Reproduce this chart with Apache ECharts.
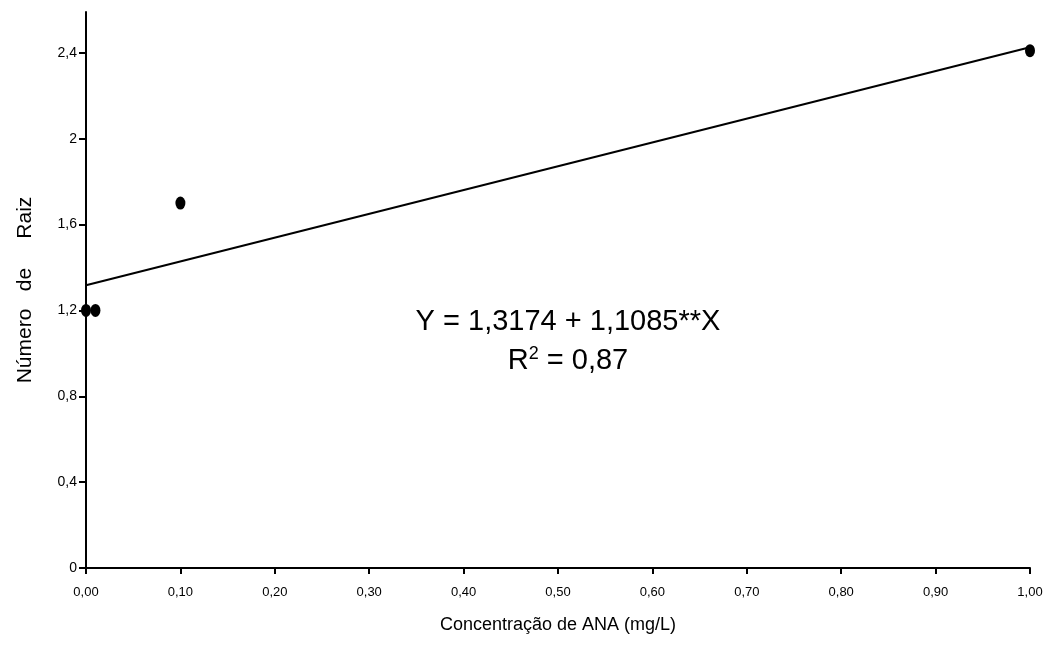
<!DOCTYPE html>
<html>
<head>
<meta charset="utf-8">
<script src="https://cdn.jsdelivr.net/npm/echarts@6/dist/echarts.min.js"></script>
<style>
  html, body { margin: 0; padding: 0; background: #fff; }
  #main { width: 1055px; height: 645px; }
</style>
</head>
<body>
<div id="main"></div>
<script>
// dados
var obsX = [0, 0.01, 0.1, 1.0];
var obsY = [1.2, 1.2, 1.7, 2.41];
var fitX = [0, 1.0];
var fitY = [1.3174, 2.4259];
var xTicks = [0, 0.1, 0.2, 0.3, 0.4, 0.5, 0.6, 0.7, 0.8, 0.9, 1.0];
var xTickLabels = ["0,00", "0,10", "0,20", "0,30", "0,40", "0,50", "0,60", "0,70", "0,80", "0,90", "1,00"];
var yTicks = [0, 0.4, 0.8, 1.2, 1.6, 2.0, 2.4];
var yTickLabels = ["0", "0,4", "0,8", "1,2", "1,6", "2", "2,4"];

var chartDom = document.getElementById("main");
var myChart = echarts.init(chartDom);
var option;

function labelFor(ticks, labels, v) {
  for (var i = 0; i < ticks.length; i++) {
    if (Math.abs(ticks[i] - v) < 1e-6) return labels[i];
  }
  return "";
}

option = {
  animation: false,
  grid: {
    left: 86,
    right: 25,
    top: 12,
    bottom: 77,
  },
  xAxis: {
    type: "value",
    min: 0,
    max: 1,
    name: "Concentração de ANA (mg/L)",
    nameLocation: "middle",
    nameGap: 48,
    nameTextStyle: { fontFamily: "Liberation Sans", fontSize: 18, color: "#000" },
    axisLine: { lineStyle: { color: "#000", width: 2 } },
    axisTick: { length: 6, lineStyle: { color: "#000", width: 2 }, customValues: xTicks },
    axisLabel: {
      customValues: xTicks,
      margin: 18,
      fontFamily: "Liberation Sans",
      fontSize: 13,
      color: "#000",
      formatter: function (v) { return labelFor(xTicks, xTickLabels, v); },
    },
    splitLine: { show: false },
  },
  yAxis: {
    type: "value",
    min: 0,
    max: 2.59,
    name: "Número   de     Raiz",
    nameLocation: "middle",
    nameGap: 50,
    nameTextStyle: { fontFamily: "Liberation Sans", fontSize: 21, color: "#000" },
    axisLine: { show: true, lineStyle: { color: "#000", width: 2 } },
    axisTick: { show: true, length: 7, lineStyle: { color: "#000", width: 2 }, customValues: yTicks },
    axisLabel: {
      customValues: yTicks,
      margin: 9,
      fontFamily: "Liberation Sans",
      fontSize: 14,
      color: "#000",
      formatter: function (v) { return labelFor(yTicks, yTickLabels, v); },
    },
    splitLine: { show: false },
  },
  graphic: [
    {
      type: "text",
      x: 568,
      y: 322,
      style: {
        text: "Y = 1,3174 + 1,1085**X",
        font: "29px 'Liberation Sans'",
        fill: "#000",
        align: "center",
        verticalAlign: "middle",
      },
    },
    {
      type: "text",
      x: 568,
      y: 360,
      style: {
        text: "{b|R}{s|2}{b| = 0,87}",
        align: "center",
        verticalAlign: "middle",
        rich: {
          b: { fontFamily: "Liberation Sans", fontSize: 29, color: "#000", verticalAlign: "bottom" },
          s: { fontFamily: "Liberation Sans", fontSize: 18, color: "#000", verticalAlign: "top", padding: [0, 0, 12, 0] },
        },
      },
    },
  ],
  series: [
    {
      type: "line",
      data: fitX.map(function (x, i) { return [x, fitY[i]]; }),
      showSymbol: false,
      lineStyle: { color: "#000", width: 2 },
      z: 2,
    },
    {
      type: "scatter",
      data: obsX.map(function (x, i) { return [x, obsY[i]]; }),
      symbol: "circle",
      symbolSize: [10, 13],
      itemStyle: { color: "#000", opacity: 1 },
      z: 3,
    },
  ],
};

option && myChart.setOption(option);
</script>
</body>
</html>
